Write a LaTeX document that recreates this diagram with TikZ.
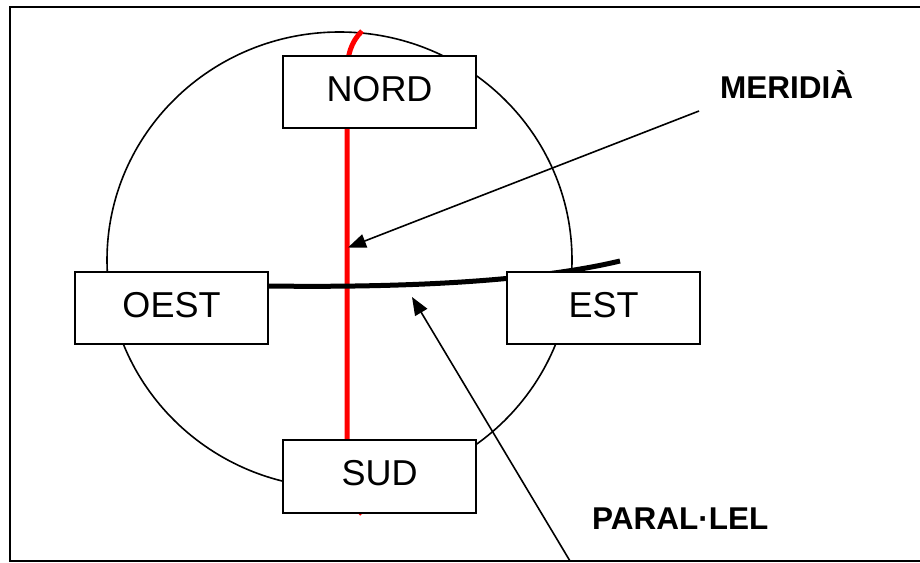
\documentclass[tikz,border=0pt]{standalone}
\usepackage{fontspec}
\setmainfont{Liberation Sans}
\usetikzlibrary{arrows.meta}

\begin{document}
\begin{tikzpicture}[x=1pt, y=-1pt,
        dirbox/.style={draw, line width=2pt, fill=white, minimum width=193pt, minimum height=72pt, inner sep=0pt, text depth=7pt, font=\fontsize{36}{40}\selectfont},
        namelabel/.style={anchor=base west, inner sep=0pt, font=\bfseries\fontsize{31.5}{36}\selectfont},
        pointer/.style={line width=1.6pt, -{Triangle[length=18pt, width=14pt]}}]
        \useasboundingbox (0, 0) rectangle (920, 562);
        \coordinate (M1) at (699, 111);
        \coordinate (M2) at (348, 247.5);
        \coordinate (P1) at (570, 561);
        \coordinate (P2) at (412, 297);
        
        % frame
        \draw[line width=2pt] (925, 7) -- (10, 7) -- (10, 560.5) -- (925, 560.5);
        
        % globe, meridian and parallel
        \draw[line width=1.6pt] (339.5, 260) ellipse [x radius=232.5, y radius=228];
        \draw[red, line width=5pt] (362, 31) .. controls (351, 42) and (347, 55) .. (347, 75) -- (347, 450) .. controls (347, 490) and (353, 505) .. (362, 514);
        \draw[line width=5pt] (200, 286) -- (268, 286) .. controls (420, 288) and (540, 280) .. (620, 261);
        
        \node[dirbox] (nord) at (379.5, 92) {NORD};
        \node[dirbox] (oest) at (171.5, 308) {OEST};
        \node[dirbox] (est) at (603.5, 308) {EST};
        \node[dirbox, minimum height=73pt] (sud) at (379.5, 476.5) {SUD};
        
        \node[namelabel] (meridia) at (720, 98) {MERIDIÀ};
        \node[namelabel] (parallel) at (592, 529) {PARAL·LEL};
        
        \draw[pointer] (M1) -- (M2);
        \draw[pointer] (P1) -- (P2);

    \end{tikzpicture}
\end{document}
